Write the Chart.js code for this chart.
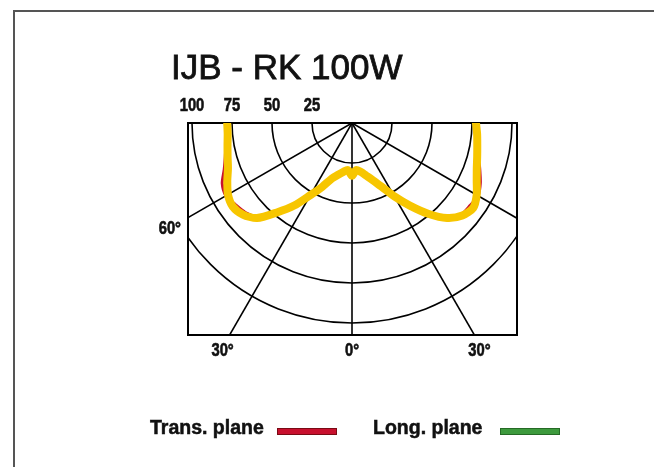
<!DOCTYPE html>
<html>
<head>
<meta charset="utf-8">
<script src="https://cdn.jsdelivr.net/npm/chart.js@4/dist/chart.umd.min.js"></script>
<style>
html,body{margin:0;padding:0;background:#fff;}
#wrap{position:relative;width:654px;height:467px;}
canvas{display:block;}
</style>
</head>
<body>
<div id="wrap"><canvas id="c" width="654" height="467"></canvas></div>
<script>
// ---- data ----
const chartTitle = "IJB - RK 100W";
const angles = [-90,-85,-80,-75,-70,-65,-60,-55,-50,-45,-40,-35,-30,-25,-20,-15,-10,-5,0,5,10,15,20,25,30,35,40,45,50,55,60,65,70,75,80,85,90];
const highlightCurve = [78,78,79,80.5,82.5,86,89.5,91,89,84,73,63,52,44,37,33.5,31,29.5,33,29.5,31,34,38,44,53,63,74,84,90,92.5,90,86,83,81,79.5,78.5,77.5];
const transPlane     = [78,78.5,80,82,85,89.5,91,89,87,83,73,63,52,44,37,33.5,31,29.5,33,29.5,31,34,38,44,53,63,74,84,89,90,91,88.5,85,82,80,79,78];
const longPlane      = [78,78,79,80.5,82.5,86,89.5,91,89,84,73,62,51,44,37,33.5,31,29.5,33,29.5,31,34,38,44,51,62,74,84,90,92.5,90,86,83,81,79.5,78.5,77.5];
const ringValues = [25,50,75,100,125];
const ringLabels = ["100","75","50","25"];
const ringLabelValues = [100,75,50,25];
const spokeAngles = [-60,-30,0,30,60];
const bottomAngleLabels = ["30°","0°","30°"];
const bottomAngleValues = [-30,0,30];
const sideAngleLabel = "60°";
const legendLabels = ["Trans. plane","Long. plane"];
const legendColors = ["#c8102e","#3d9a3d"];

function toXY(vals){
  return angles.map((a,i)=>{
    const t = a*Math.PI/180;
    return {x: vals[i]*Math.sin(t), y: -vals[i]*Math.cos(t)};
  });
}

const gridPlugin = {
  id:'polarGrid',
  beforeDatasetsDraw(chart){
    const {ctx, chartArea:ca, scales:{x,y}} = chart;
    const cx = x.getPixelForValue(0), cy = y.getPixelForValue(0);
    const k = x.getPixelForValue(1) - cx;
    ctx.save();
    ctx.beginPath(); ctx.rect(ca.left, ca.top, ca.right-ca.left, ca.bottom-ca.top); ctx.clip();
    ctx.strokeStyle = '#000'; ctx.lineWidth = 1.6;
    ringValues.forEach(r=>{
      ctx.beginPath(); ctx.arc(cx, cy, r*k, 0, Math.PI); ctx.stroke();
    });
    spokeAngles.forEach(a=>{
      const t = a*Math.PI/180, L = 400;
      ctx.beginPath(); ctx.moveTo(cx,cy);
      ctx.lineTo(cx + L*Math.sin(t), cy + L*Math.cos(t)); ctx.stroke();
    });
    ctx.restore();
    ctx.save();
    ctx.strokeStyle = '#000'; ctx.lineWidth = 2;
    ctx.strokeRect(ca.left, ca.top, ca.right-ca.left, ca.bottom-ca.top);
    ctx.restore();
  },
  afterDraw(chart){
    const {ctx, chartArea:ca, scales:{x,y}} = chart;
    const cx = x.getPixelForValue(0), cy = y.getPixelForValue(0);
    ctx.save();
    // outer frame (top & left)
    ctx.strokeStyle = '#555'; ctx.lineWidth = 2;
    ctx.beginPath(); ctx.moveTo(14, 467); ctx.lineTo(14, 11); ctx.lineTo(654, 11); ctx.stroke();
    // title
    ctx.fillStyle = '#111'; ctx.strokeStyle = '#111'; ctx.lineWidth = 0.8;
    ctx.font = '35px "Liberation Sans", Arial, sans-serif';
    ctx.textBaseline = 'alphabetic'; ctx.textAlign = 'left';
    ctx.fillText(chartTitle, 171, 79);
    ctx.strokeText(chartTitle, 171, 79);
    // condensed bold labels
    function cond(txt, px, py, align){
      ctx.save();
      ctx.font = 'bold 18px "Liberation Sans", Arial, sans-serif';
      ctx.fillStyle = '#111'; ctx.strokeStyle = '#111'; ctx.lineWidth = 0.6;
      ctx.textAlign = align; ctx.textBaseline = 'middle';
      ctx.translate(px, py); ctx.scale(0.82, 1);
      ctx.fillText(txt, 0, 0); ctx.strokeText(txt, 0, 0);
      ctx.restore();
    }
    ringLabelValues.forEach((v,i)=> cond(ringLabels[i], x.getPixelForValue(-v), ca.top-17, 'center'));
    const t60 = 60*Math.PI/180;
    const yl = cy + (cx-ca.left)/Math.tan(t60);
    cond(sideAngleLabel, ca.left-7, yl+11, 'right');
    bottomAngleValues.forEach((a,i)=>{
      const t = a*Math.PI/180;
      const xb = cx + (ca.bottom-cy)*Math.tan(t);
      const off = a<0 ? -7 : (a>0 ? 5 : 0);
      cond(bottomAngleLabels[i], xb+off, ca.bottom+16, 'center');
    });
    // legend
    ctx.font = 'bold 19.5px "Liberation Sans", Arial, sans-serif';
    ctx.textAlign = 'left'; ctx.textBaseline = 'alphabetic';
    const lx = [150, 373], bx = [277, 500];
    legendLabels.forEach((lab,i)=>{
      ctx.fillStyle = '#111'; ctx.strokeStyle = '#111'; ctx.lineWidth = 0.5;
      ctx.fillText(lab, lx[i], 434); ctx.strokeText(lab, lx[i], 434);
      ctx.fillStyle = legendColors[i];
      ctx.fillRect(bx[i], 428.5, 60, 6);
      ctx.strokeStyle = i===0 ? '#7a0a14' : '#256a25'; ctx.lineWidth = 1;
      ctx.strokeRect(bx[i]+0.5, 428.5, 59, 6);
    });
    ctx.restore();
  }
};

new Chart(document.getElementById('c'), {
  type: 'scatter',
  data: {
    datasets: [
      {label:'highlight', data: toXY(highlightCurve), showLine:true, borderColor:'#f7c600', borderWidth:8, pointRadius:0, tension:0.25, borderCapStyle:'round', borderJoinStyle:'round'},
      {label:legendLabels[0], data: toXY(transPlane), showLine:true, borderColor:legendColors[0], borderWidth:3, pointRadius:0, tension:0.25},
      {label:legendLabels[1], data: toXY(longPlane), showLine:true, borderColor:legendColors[1], borderWidth:3, pointRadius:0, tension:0.25}
    ]
  },
  options: {
    responsive:false, animation:false, devicePixelRatio:1,
    layout:{padding:{left:188, right:137, top:123, bottom:132}},
    scales:{
      x:{type:'linear', min:-102.5, max:103.125, display:false},
      y:{type:'linear', min:-132.5, max:0, display:false}
    },
    plugins:{legend:{display:false}, tooltip:{enabled:false}}
  },
  plugins:[gridPlugin]
});
</script>
</body>
</html>
